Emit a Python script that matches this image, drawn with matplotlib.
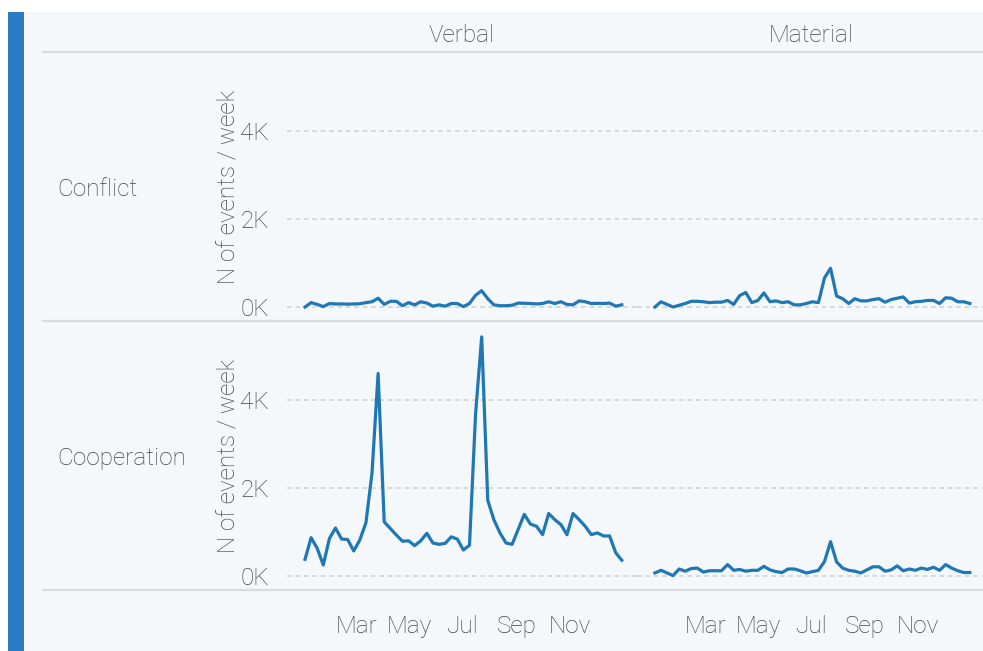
import matplotlib
matplotlib.use("Agg")
import matplotlib.pyplot as plt
import matplotlib.dates as mdates
from matplotlib.lines import Line2D
from matplotlib.patches import Rectangle
import numpy as np
import pandas as pd

plt.rcParams['font.family'] = ['Roboto', 'DejaVu Sans']

weeks = pd.date_range("2018-01-01", periods=53, freq="7D")
rows = ["Conflict", "Cooperation"]
cols = ["Verbal", "Material"]
month_ticks = ["2018-03-01", "2018-05-01", "2018-07-01", "2018-09-01", "2018-11-01"]
month_labels = ["Mar", "May", "Jul", "Sep", "Nov"]
y_ticks = [0, 2000, 4000]
y_tick_labels = ["0K", "2K", "4K"]

conflict_verbal = [0, 100, 60, 10, 80, 70, 70, 65, 70, 75, 100, 120, 200, 60, 130, 130,
                   30, 100, 50, 120, 90, 20, 50, 20, 80, 80, 10, 80, 270, 370, 190, 50,
                   30, 30, 40, 90, 85, 80, 70, 80, 120, 80, 120, 60, 50, 140, 120, 80,
                   85, 80, 90, 20, 50]
conflict_material = [0, 120, 60, 0, 40, 80, 130, 130, 120, 100, 110, 110, 150, 60, 260,
                     330, 100, 150, 320, 120, 140, 100, 120, 50, 50, 80, 120, 100, 660,
                     880, 250, 190, 80, 190, 140, 140, 170, 190, 110, 170, 200, 230, 90,
                     120, 130, 150, 150, 80, 210, 200, 120, 120, 80]
coop_verbal = [380, 870, 630, 250, 850, 1090, 840, 830, 570, 820, 1210, 2340, 4600, 1230,
               1080, 930, 790, 800, 690, 800, 970, 750, 720, 740, 890, 840, 590, 700,
               3680, 5430, 1720, 1280, 980, 750, 720, 1060, 1400, 1180, 1130, 940, 1420,
               1280, 1170, 940, 1420, 1280, 1130, 940, 980, 910, 910, 530, 360]
coop_material = [70, 130, 70, 10, 160, 110, 170, 180, 90, 120, 120, 120, 260, 130, 150,
                 110, 130, 130, 220, 140, 100, 80, 160, 160, 120, 70, 100, 130, 330, 780,
                 320, 180, 130, 110, 70, 140, 210, 210, 110, 140, 230, 120, 160, 130, 180,
                 150, 200, 130, 260, 180, 120, 80, 80]

data = {("Conflict", "Verbal"): conflict_verbal,
        ("Conflict", "Material"): conflict_material,
        ("Cooperation", "Verbal"): coop_verbal,
        ("Cooperation", "Material"): coop_material}

W, H = 983, 651
BG = "#f4f8fb"
TXT = "#444444"
FS = 17.5
fig = plt.figure(figsize=(W / 100, H / 100), dpi=100)
fig.patch.set_facecolor("white")

def px(x0, y0, x1, y1):
    return [x0 / W, 1 - y1 / H, (x1 - x0) / W, (y1 - y0) / H]

# background and left strip
fig.add_artist(Rectangle((8 / W, 0), (W - 8) / W, 1 - 12 / H, transform=fig.transFigure,
                         facecolor=BG, edgecolor="none", zorder=0))
fig.add_artist(Rectangle((8 / W, 0), 16 / W, 1 - 12 / H, transform=fig.transFigure,
                         facecolor="#2a7ac6", edgecolor="none", zorder=1))

# separator lines
for yy in [52, 321, 590]:
    fig.add_artist(Line2D([43 / W, 1], [1 - yy / H] * 2, transform=fig.transFigure,
                          color="#d9dcdf", lw=1.6, zorder=1))

col_x = {"Verbal": (287, 637), "Material": (637, 985)}
row_y = {"Conflict": (52, 321), "Cooperation": (321, 590)}

x0 = weeks[0] - pd.Timedelta(days=20.7)
x1 = weeks[-1] + pd.Timedelta(days=17.5)

for r in rows:
    for c in cols:
        ax = fig.add_axes(px(col_x[c][0], row_y[r][0], col_x[c][1], row_y[r][1]))
        ax.set_facecolor("none")
        for s in ax.spines.values():
            s.set_visible(False)
        ax.plot(weeks, data[(r, c)], color="#1f77b4", lw=2.3, solid_joinstyle="round",
                zorder=3)
        ax.set_xlim(x0, x1)
        ax.set_ylim(-317, 5790)
        ax.set_yticks(y_ticks)
        ax.yaxis.grid(True, color="#cfcfcf", lw=1.1, ls=(0, (3, 2.5)))
        ax.set_axisbelow(True)
        ax.tick_params(length=0, labelsize=FS, labelcolor=TXT)
        ax.tick_params(axis="y", pad=13)
        if c == "Verbal":
            ax.set_yticklabels(y_tick_labels)
            ax.set_ylabel("N of events / week", fontsize=FS, color=TXT, labelpad=0)
        else:
            ax.set_yticklabels([])
        ax.set_xticks(pd.to_datetime(month_ticks))
        if r == "Cooperation":
            ax.set_xticklabels(month_labels)
            ax.tick_params(axis="x", pad=18)
        else:
            ax.set_xticklabels([])
        for lab in ax.get_xticklabels() + ax.get_yticklabels():
            lab.set_fontweight("light")
        ax.yaxis.label.set_fontweight("light")
        if r == "Conflict":
            fig.text((col_x[c][0] + col_x[c][1]) / 2 / W, 1 - 36 / H, c, ha="center",
                     va="center", fontsize=FS, color=TXT, fontweight="light")
    yc = (row_y[r][0] + row_y[r][1]) / 2
    fig.text(57 / W, 1 - (yc + 3) / H, r, ha="left", va="center", fontsize=FS,
             color=TXT, fontweight="light")

fig.savefig("out.png", dpi=100, facecolor="white")
